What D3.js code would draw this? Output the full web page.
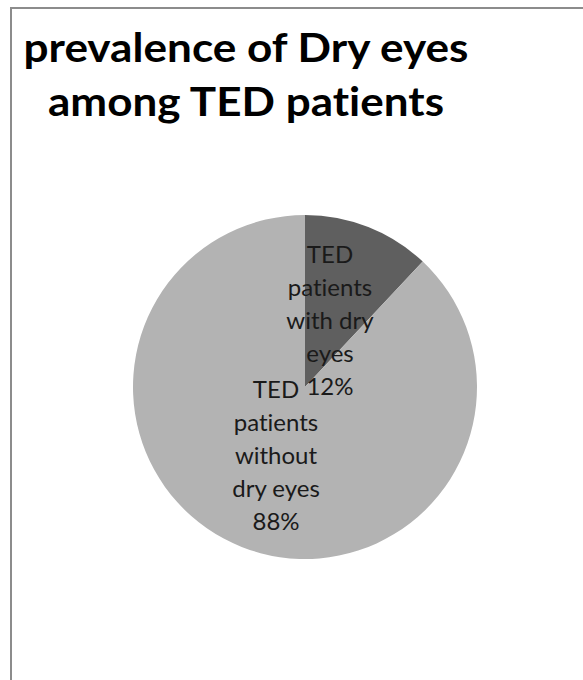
<!DOCTYPE html>
<html>
<head>
<meta charset="utf-8">
<script src="https://cdn.jsdelivr.net/npm/d3@7"></script>
<style>
  body { margin: 0; background: #fff; }
  svg { display: block; }
  text { font-variant-ligatures: none; font-feature-settings: "liga" 0, "dlig" 0; }
</style>
</head>
<body>
<svg id="chart" width="583" height="680"></svg>
<script>
const categories = ["TED patients with dry eyes", "TED patients without dry eyes"];
const values = [12, 88];
const labelLines = [
    ["TED", "patients", "with dry", "eyes", "12%"],
    ["TED", "patients", "without", "dry eyes", "88%"]
];
const titleLines = ["prevalence of Dry eyes", "among TED patients"];

const width = 583, height = 680;
const cx = 305, cy = 387, radius = 172;

const svg = d3.select("#chart");

// chart frame, only left and top edges inside the window
svg.append("rect")
    .attr("x", 11)
    .attr("y", 8)
    .attr("width", 700)
    .attr("height", 800)
    .attr("fill", "#fff")
    .attr("stroke", "#8c8c8c")
    .attr("stroke-width", 2);

const color = d3.scaleOrdinal()
    .domain(categories)
    .range(["#5f5f5f", "#b3b3b3"]);

const pie = d3.pie().sort(null).value(d => d.value);
const arc = d3.arc().innerRadius(0).outerRadius(radius);

const data = categories.map((c, i) => ({name: c, value: values[i], lines: labelLines[i]}));

const g = svg.append("g").attr("transform", `translate(${cx},${cy})`);

g.selectAll("path")
    .data(pie(data))
    .enter()
    .append("path")
    .attr("d", arc)
    .attr("fill", d => color(d.data.name));

// label positions (data label offsets, as placed by the original chart)
const labelPos = [
    {x: 25, y: -66},
    {x: -29, y: 69}
];
const lineH = 33;

g.selectAll(".label")
    .data(pie(data))
    .enter()
    .append("text")
    .attr("class", "label")
    .attr("text-anchor", "middle")
    .attr("font-family", "Lato, 'Open Sans', sans-serif")
    .attr("font-size", 24)
    .attr("fill", "#1a1a1a")
    .each(function (d, i) {
        const lines = d.data.lines;
        const p = labelPos[i];
        const y0 = p.y - (lines.length - 1) * lineH / 2;
        d3.select(this).selectAll("tspan")
            .data(lines)
            .enter()
            .append("tspan")
            .attr("x", p.x)
            .attr("y", (t, j) => y0 + j * lineH)
            .attr("dy", "0.35em")
            .text(t => t);
    });

// title
const titleWidths = [445, 396];
svg.append("g")
    .selectAll("text")
    .data(titleLines)
    .enter()
    .append("text")
    .attr("x", 246)
    .attr("y", (d, i) => 62 + i * 54)
    .attr("text-anchor", "middle")
    .attr("font-family", "Lato, 'Open Sans', sans-serif")
    .attr("font-weight", "bold")
    .attr("font-size", 40)
    .attr("textLength", (d, i) => titleWidths[i])
    .attr("lengthAdjust", "spacingAndGlyphs")
    .attr("fill", "#000")
    .text(d => d);
</script>
</body>
</html>
